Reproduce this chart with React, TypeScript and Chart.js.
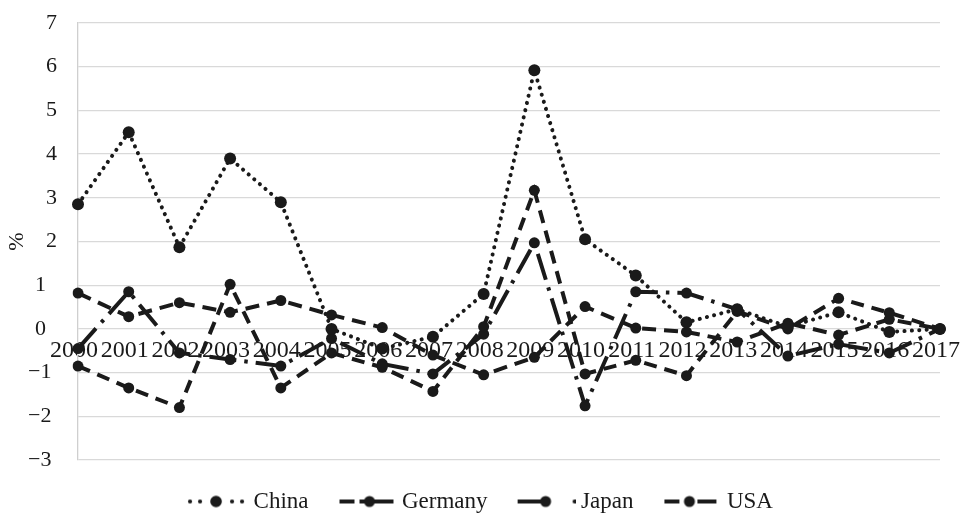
import React, { useEffect, useRef } from 'react';
import { Chart, registerables } from 'chart.js';

Chart.register(...registerables);

const years = ['2000', '2001', '2002', '2003', '2004', '2005', '2006', '2007', '2008', '2009', '2010', '2011', '2012', '2013', '2014', '2015', '2016', '2017'];
const china = [2.85, 4.5, 1.87, 3.9, 2.9, 0.0, -0.45, -0.18, 0.8, 5.92, 2.05, 1.22, 0.15, 0.45, 0.05, 0.38, -0.07, 0];
const germany = [-0.85, -1.35, -1.8, 1.02, -1.35, -0.55, -0.88, -1.43, 0.05, 3.17, -1.03, -0.72, -1.07, 0.4, 0.0, 0.7, 0.37, 0];
const japan = [-0.45, 0.85, -0.55, -0.7, -0.85, -0.22, -0.8, -1.03, -0.12, 1.97, -1.76, 0.85, 0.82, 0.45, -0.62, -0.35, -0.55, 0];
const usa = [0.82, 0.28, 0.6, 0.38, 0.65, 0.32, 0.03, -0.6, -1.05, -0.65, 0.51, 0.02, -0.07, -0.3, 0.13, -0.14, 0.22, 0];
const seriesNames = ['China', 'Germany', 'Japan', 'USA'];

const INK = '#1a1a1a';
const GRID = '#d9d9d9';
const FONT = "'Liberation Serif', 'Times New Roman', serif";

function makeSample(kind: string): HTMLCanvasElement {
  const c = document.createElement('canvas');
  c.width = 64;
  c.height = 16;
  const g = c.getContext('2d') as CanvasRenderingContext2D;
  const o = 6;
  const cy = 8;
  g.strokeStyle = INK;
  g.fillStyle = INK;
  g.lineWidth = 4;
  const seg = (a: number, b: number) => {
    g.beginPath();
    g.moveTo(o + a, cy);
    g.lineTo(o + b, cy);
    g.stroke();
  };
  const dot = (x: number, r: number) => {
    g.beginPath();
    g.arc(o + x, cy, r, 0, Math.PI * 2);
    g.fill();
  };
  if (kind === 'China') {
    [0, 10, 42, 52].forEach((x) => dot(x, 2.1));
    dot(26, 5.8);
  } else if (kind === 'Germany') {
    seg(1, 16);
    seg(21, 55);
    dot(31, 5.5);
  } else if (kind === 'Japan') {
    seg(0, 28);
    dot(28, 5.5);
    dot(57, 2.1);
  } else {
    seg(1, 16);
    seg(34, 53);
    dot(26, 5.5);
  }
  return c;
}

export default function App() {
  const ref = useRef<HTMLCanvasElement | null>(null);

  useEffect(() => {
    if (!ref.current) return;
    const samples = seriesNames.map((n) => makeSample(n));
    const common = {
      borderColor: INK,
      backgroundColor: INK,
      pointBackgroundColor: INK,
      pointBorderWidth: 0,
      pointRadius: 5.5,
      tension: 0,
      fill: false,
    };
    const chart = new Chart(ref.current, {
      type: 'line',
      data: {
        labels: years,
        datasets: [
          { ...common, label: seriesNames[0], data: china, borderWidth: 4, borderDash: [0.1, 7.3], borderCapStyle: 'round', pointRadius: 6 },
          { ...common, label: seriesNames[1], data: germany, borderWidth: 4, borderDash: [13, 8] },
          { ...common, label: seriesNames[2], data: japan, borderWidth: 4, borderDash: [27, 8, 3.5, 8] },
          { ...common, label: seriesNames[3], data: usa, borderWidth: 4, borderDash: [14, 8] },
        ],
      },
      options: {
        animation: false,
        responsive: true,
        maintainAspectRatio: false,
        layout: { padding: { top: 23, right: 0, left: 0, bottom: 0 } },
        plugins: {
          tooltip: { enabled: false },
          legend: {
            position: 'bottom',
            maxHeight: 56,
            labels: {
              usePointStyle: true,
              pointStyleWidth: 52,
              padding: 30,
              color: INK,
              font: { family: FONT, size: 23 },
              generateLabels: () =>
                seriesNames.map((n, i) => ({
                  text: n,
                  pointStyle: samples[i],
                  fillStyle: INK,
                  strokeStyle: INK,
                  lineWidth: 0,
                  hidden: false,
                  datasetIndex: i,
                  fontColor: INK,
                })),
            },
          },
        },
        scales: {
          x: {
            type: 'category',
            position: { y: 0 } as any,
            grid: { display: false },
            border: { display: false },
            afterFit: (s: any) => {
              s.paddingLeft = 0;
              s.paddingRight = 23;
              s.paddingTop = 0;
              s.paddingBottom = 0;
            },
            ticks: {
              autoSkip: false,
              maxRotation: 0,
              minRotation: 0,
              padding: -1,
              labelOffset: -4,
              color: INK,
              font: { family: FONT, size: 24 },
            },
          },
          y: {
            min: -3,
            max: 7,
            afterFit: (s: any) => {
              s.width = 78;
              s.paddingTop = 0;
              s.paddingBottom = 0;
            },
            ticks: {
              stepSize: 1,
              padding: 21,
              color: INK,
              font: { family: FONT, size: 22 },
              callback: (v: any) => {
                const n = Number(v);
                if (n < 0) return '\u2212' + Math.abs(n) + ' ';
                if (n === 0 || n === 1) return String(n) + '  ';
                return String(n);
              },
            },
            grid: { color: GRID, lineWidth: 1.3, drawTicks: false },
            border: { color: '#cfcfcf', width: 1.3 },
            title: {
              display: true,
              text: '%',
              color: INK,
              font: { family: FONT, size: 22 },
              padding: { top: 4, bottom: 0 },
            },
          },
        },
      },
    });
    return () => chart.destroy();
  }, []);

  return (
    <div style={{ position: 'fixed', left: 0, top: 0, width: 963, height: 516, background: '#fff' }}>
      <canvas ref={ref} />
    </div>
  );
}
